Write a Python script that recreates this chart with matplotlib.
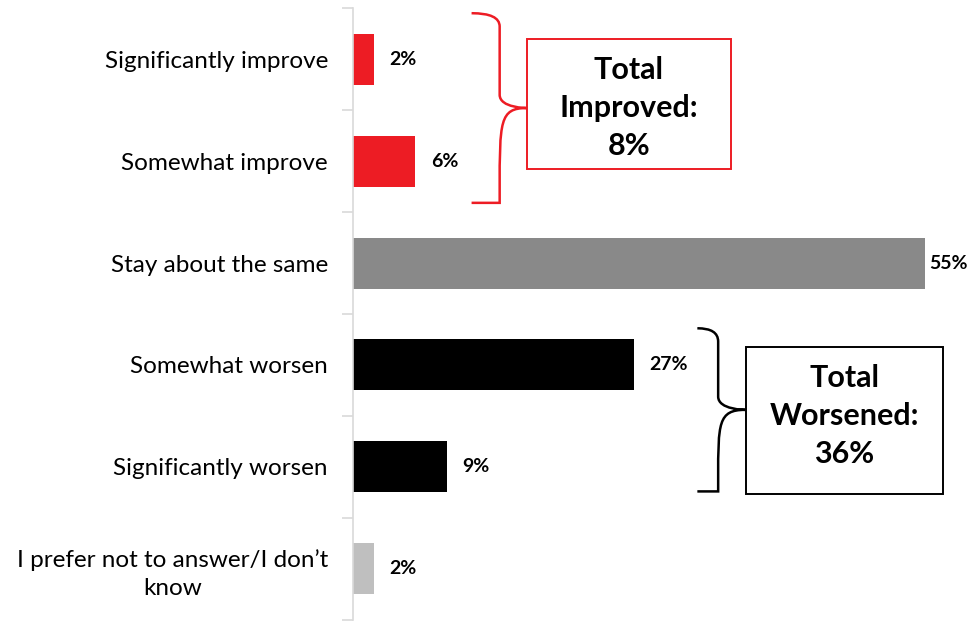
import numpy as np
import matplotlib.pyplot as plt
from matplotlib.path import Path
from matplotlib.patches import PathPatch

plt.rcParams['font.family'] = ['Lato', 'DejaVu Sans']

# chart data
categories = ['Significantly improve', 'Somewhat improve', 'Stay about the same',
              'Somewhat worsen', 'Significantly worsen',
              'I prefer not to answer/I don\u2019t\nknow']
values = [2, 6, 55, 27, 9, 2]
value_labels = ['2%', '6%', '55%', '27%', '9%', '2%']
bar_colors = ['#ED1C24', '#ED1C24', '#898989', '#000000', '#000000', '#BFBFBF']
improved_text = 'Total\nImproved:\n8%'
worsened_text = 'Total\nWorsened:\n36%'


def brace(ax, x_tail, x_v, x_tip, y_top, y_bot, r, color):
    # curly bracket opening to the left, point to the right
    y_mid = (y_top + y_bot) / 2
    verts = [(x_tail, y_top), (x_v, y_top), (x_v, y_top + r),
             (x_v, y_mid - r),
             (x_v, y_mid), (x_tip, y_mid), (x_tip, y_mid),
             (x_v, y_mid), (x_v, y_mid + r),
             (x_v, y_bot - r),
             (x_v, y_bot), (x_tail, y_bot), (x_tail, y_bot)]
    codes = [Path.MOVETO, Path.CURVE3, Path.CURVE3,
             Path.LINETO,
             Path.CURVE4, Path.CURVE4, Path.CURVE4,
             Path.CURVE4, Path.CURVE4, Path.CURVE4,
             Path.LINETO,
             Path.CURVE3, Path.CURVE3]
    ax.add_patch(PathPatch(Path(verts, codes), fill=False, edgecolor=color,
                           lw=1.8, clip_on=False))


fig = plt.figure(figsize=(9.71, 6.23), dpi=100)
ax = fig.add_axes([0.3635, 0.005, 0.6365, 0.982])

y = np.arange(len(categories))
ax.barh(y, values, height=0.5, color=bar_colors)

for i, (v, lab) in enumerate(zip(values, value_labels)):
    off = 3 if v > 50 else 11
    ax.annotate(lab, (v, i), xytext=(off, 0), textcoords='offset points',
                ha='left', va='center', fontsize=14, fontweight='bold')

ax.set_xlim(0, 59.4)
ax.set_ylim(5.5, -0.5)
ax.set_yticks(y)
ax.set_yticklabels(categories, fontsize=17.5, multialignment='center',
                   linespacing=1.4)
ax.set_yticks(np.arange(-0.5, 6.0, 1), minor=True)
ax.tick_params(axis='y', which='major', length=0, pad=18)
ax.tick_params(axis='y', which='minor', length=8, color='#D9D9D9', width=1.2)
ax.set_xticks([])
for s in ['top', 'right', 'bottom']:
    ax.spines[s].set_visible(False)
ax.spines['left'].set_color('#D9D9D9')
ax.spines['left'].set_linewidth(1.2)

# brackets
brace(ax, 11.4, 14.1, 16.7, -0.45, 1.41, 0.13, '#ED1C24')
brace(ax, 33.1, 35.1, 37.7, 2.64, 4.24, 0.13, '#000000')

# summary boxes
ax.add_patch(plt.Rectangle((16.7, -0.2), 19.6, 1.28, fill=False,
                           edgecolor='#ED1C24', lw=1.4, clip_on=False))
ax.text(26.5, 0.48, improved_text, ha='center', va='center', fontsize=22,
        fontweight='bold', linespacing=1.45)
ax.add_patch(plt.Rectangle((37.8, 2.82), 18.9, 1.45, fill=False,
                           edgecolor='#000000', lw=1.4, clip_on=False))
ax.text(47.25, 3.50, worsened_text, ha='center', va='center', fontsize=22,
        fontweight='bold', linespacing=1.45)

fig.savefig('out.png', dpi=100)
